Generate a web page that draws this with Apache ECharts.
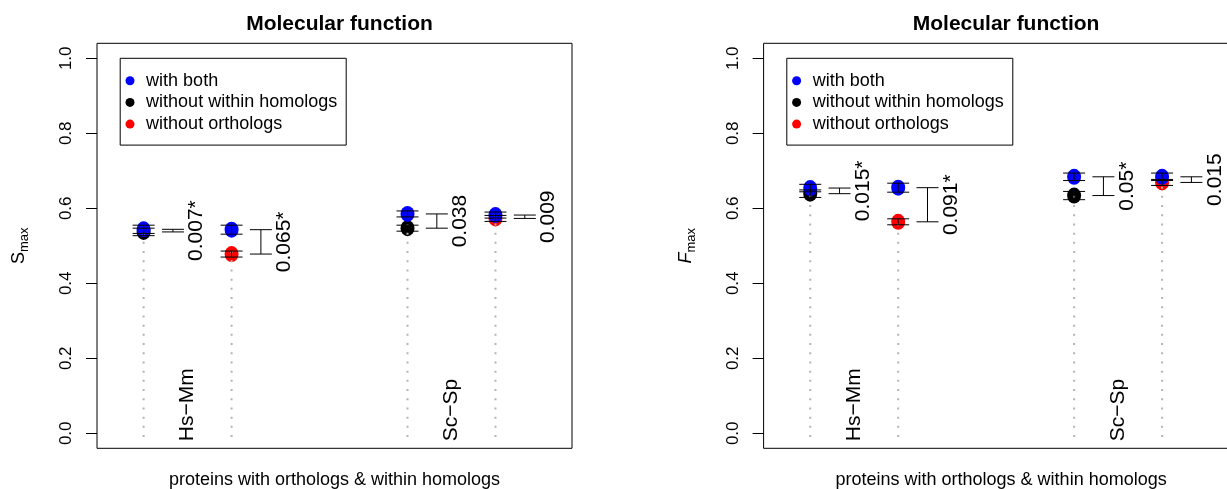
<!DOCTYPE html>
<html>
<head>
<meta charset="utf-8">
<script src="https://cdn.jsdelivr.net/npm/echarts@6/dist/echarts.min.js"></script>
<style>
html, body { margin: 0; padding: 0; background: #fff; }
#main { width: 1227px; height: 489px; }
</style>
</head>
<body>
<div id="main"></div>
<script>
// positions of the four comparisons on the x axis
var positions = [1, 2, 4, 5];
// which series the second point of each pair belongs to
var otherSeries = ['without within homologs', 'without orthologs', 'without within homologs', 'without orthologs'];
var groupNames = ['Hs\u2212Mm', 'Sc\u2212Sp'];
var groupPos = [1.5, 4.5];
var yTicks = [0, 0.2, 0.4, 0.6, 0.8, 1.0];

// left panel: Smax
var sBoth = [0.544, 0.543, 0.585, 0.582];
var sBothCI = [0.011, 0.012, 0.008, 0.008];
var sOther = [0.537, 0.478, 0.547, 0.573];
var sOtherCI = [0.010, 0.008, 0.008, 0.008];
var sDiff = ['0.007*', '0.065*', '0.038', '0.009'];

// right panel: Fmax
var fBoth = [0.654, 0.655, 0.684, 0.684];
var fBothCI = [0.010, 0.012, 0.010, 0.010];
var fOther = [0.639, 0.564, 0.634, 0.669];
var fOtherCI = [0.010, 0.008, 0.011, 0.008];
var fDiff = ['0.015*', '0.091*', '0.05*', '0.015'];

var FONT = '"Liberation Sans", Arial, Helvetica, sans-serif';
var colors = {
    'with both': '#0000ff',
    'without within homologs': '#000000',
    'without orthologs': '#ff0000'
};

var myChart = echarts.init(document.getElementById('main'));

function errorBarItem(params, api) {
    var x = api.value(0), lo = api.value(1), hi = api.value(2);
    var top = api.coord([x, hi]), bot = api.coord([x, lo]);
    var w = 11;
    var st = { stroke: '#000', lineWidth: 1 };
    return {
        type: 'group',
        children: [
            { type: 'line', shape: { x1: top[0], y1: top[1], x2: bot[0], y2: bot[1] }, style: st },
            { type: 'line', shape: { x1: top[0] - w, y1: top[1], x2: top[0] + w, y2: top[1] }, style: st },
            { type: 'line', shape: { x1: bot[0] - w, y1: bot[1], x2: bot[0] + w, y2: bot[1] }, style: st }
        ]
    };
}

function dottedItem(params, api) {
    var x = api.value(0);
    var a = api.coord([x, api.value(1)]), b = api.coord([x, api.value(2)]);
    return {
        type: 'line',
        shape: { x1: a[0], y1: a[1], x2: b[0], y2: b[1] },
        style: { stroke: '#b4b4b4', lineWidth: 2, lineDash: [2, 7.2] }
    };
}

function textRenderer(labels, align, size) {
    return function (params, api) {
        var p = api.coord([api.value(0), api.value(1)]);
        return {
            type: 'text',
            x: p[0],
            y: p[1],
            rotation: Math.PI / 2,
            style: {
                text: labels[params.dataIndex],
                fill: '#000',
                fontSize: size,
                fontFamily: FONT,
                align: align,
                verticalAlign: 'middle'
            }
        };
    };
}

function panelSeries(idx, both, bothCI, other, otherCI, diffs) {
    var list = [];
    var blackPts = [], redPts = [], bluePts = [];
    var bars = [], dots = [], brackets = [], diffPos = [];
    for (var i = 0; i < positions.length; i++) {
        var x = positions[i];
        bluePts.push([x, both[i]]);
        if (otherSeries[i] === 'without orthologs') redPts.push([x, other[i]]);
        else blackPts.push([x, other[i]]);
        bars.push([x, both[i] - bothCI[i], both[i] + bothCI[i]]);
        bars.push([x, other[i] - otherCI[i], other[i] + otherCI[i]]);
        dots.push([x, -0.01, Math.min(both[i], other[i]) + 0.01]);
        brackets.push([x + 1 / 3, Math.min(both[i], other[i]), Math.max(both[i], other[i])]);
        diffPos.push([x + 0.6, (both[i] + other[i]) / 2]);
    }
    var common = { xAxisIndex: idx, yAxisIndex: idx };
    function scatter(name, data) {
        return Object.assign({
            type: 'scatter', name: name, data: data,
            symbol: 'circle', symbolSize: [14, 16],
            itemStyle: { color: colors[name], opacity: 1 },
            emphasis: { disabled: true }, z: 2
        }, common);
    }
    list.push(scatter('without within homologs', blackPts));
    list.push(scatter('without orthologs', redPts));
    list.push(scatter('with both', bluePts));
    list.push(Object.assign({ type: 'custom', renderItem: dottedItem, data: dots, z: 3, silent: true }, common));
    list.push(Object.assign({ type: 'custom', renderItem: errorBarItem, data: bars, z: 4, silent: true }, common));
    list.push(Object.assign({ type: 'custom', renderItem: errorBarItem, data: brackets, z: 4, silent: true }, common));
    list.push(Object.assign({ type: 'custom', renderItem: textRenderer(diffs, 'center', 21), data: diffPos, z: 5, silent: true }, common));
    list.push(Object.assign({
        type: 'custom', renderItem: textRenderer(groupNames, 'left', 21),
        data: groupPos.map(function (g) { return [g, -0.021]; }), z: 5, silent: true
    }, common));
    return list;
}

var gridLefts = [97, 763.6];
var yNames = ['{s|S}{sub|max}', '{f|F}{sub|max}'];

function xAxisFor(i) {
    return {
        type: 'value', gridIndex: i, min: 0.47, max: 5.87,
        axisLine: { show: false }, axisTick: { show: false },
        axisLabel: { show: false }, splitLine: { show: false },
        name: 'proteins with orthologs & within homologs',
        nameLocation: 'middle', nameGap: 23,
        nameTextStyle: { color: '#000', fontSize: 18, fontFamily: FONT }
    };
}

function yAxisFor(i) {
    return {
        type: 'value', gridIndex: i, min: -0.04, max: 1.04,
        axisLine: { show: false },
        splitLine: { show: false },
        axisTick: { show: true, length: 11, inside: false, customValues: yTicks, lineStyle: { color: '#000', width: 1 } },
        axisLabel: {
            show: true, customValues: yTicks, rotate: 90, margin: 22,
            color: '#000', fontSize: 17, fontFamily: FONT,
            formatter: function (v) { return v.toFixed(1); }
        },
        name: yNames[i], nameLocation: 'middle', nameRotate: 90, nameGap: 66,
        nameTextStyle: {
            color: '#000', fontFamily: FONT,
            rich: {
                s: { fontSize: 18, fontFamily: FONT, color: '#000', lineHeight: 24, verticalAlign: 'middle' },
                f: { fontSize: 18, fontFamily: FONT, color: '#000', fontStyle: 'italic', lineHeight: 24, verticalAlign: 'middle' },
                sub: { fontSize: 13, fontFamily: FONT, color: '#000', lineHeight: 14, verticalAlign: 'bottom' }
            }
        }
    };
}

function legendFor(i) {
    return {
        show: true,
        data: ['with both', 'without within homologs', 'without orthologs'],
        orient: 'vertical',
        left: gridLefts[i] + 23.2, top: 58.3,
        icon: 'circle', itemWidth: 22.2, itemHeight: 9, itemGap: 3.7,
        padding: [13.4, 9, 12, 5.3],
        borderColor: '#000', borderWidth: 1, backgroundColor: '#fff',
        selectedMode: false,
        textStyle: { color: '#000', fontSize: 18, fontFamily: FONT, lineHeight: 18 }
    };
}

var option = {
    animation: false,
    backgroundColor: '#fff',
    title: [0, 1].map(function (i) {
        return {
            text: 'Molecular function', left: gridLefts[i] + 237.5, top: 9, textAlign: 'center',
            textStyle: { color: '#000', fontSize: 21, fontWeight: 'bold', fontFamily: FONT }
        };
    }),
    legend: [legendFor(0), legendFor(1)],
    grid: [0, 1].map(function (i) {
        return {
            left: gridLefts[i], top: 43.3, width: 475, height: 405,
            outerBoundsMode: 'none',
            show: true, borderColor: '#000', borderWidth: 1,
            backgroundColor: 'transparent', containLabel: false
        };
    }),
    xAxis: [xAxisFor(0), xAxisFor(1)],
    yAxis: [yAxisFor(0), yAxisFor(1)],
    series: panelSeries(0, sBoth, sBothCI, sOther, sOtherCI, sDiff)
        .concat(panelSeries(1, fBoth, fBothCI, fOther, fOtherCI, fDiff))
};

myChart.setOption(option);
window.onresize = function () { myChart.resize(); };
</script>
</body>
</html>
